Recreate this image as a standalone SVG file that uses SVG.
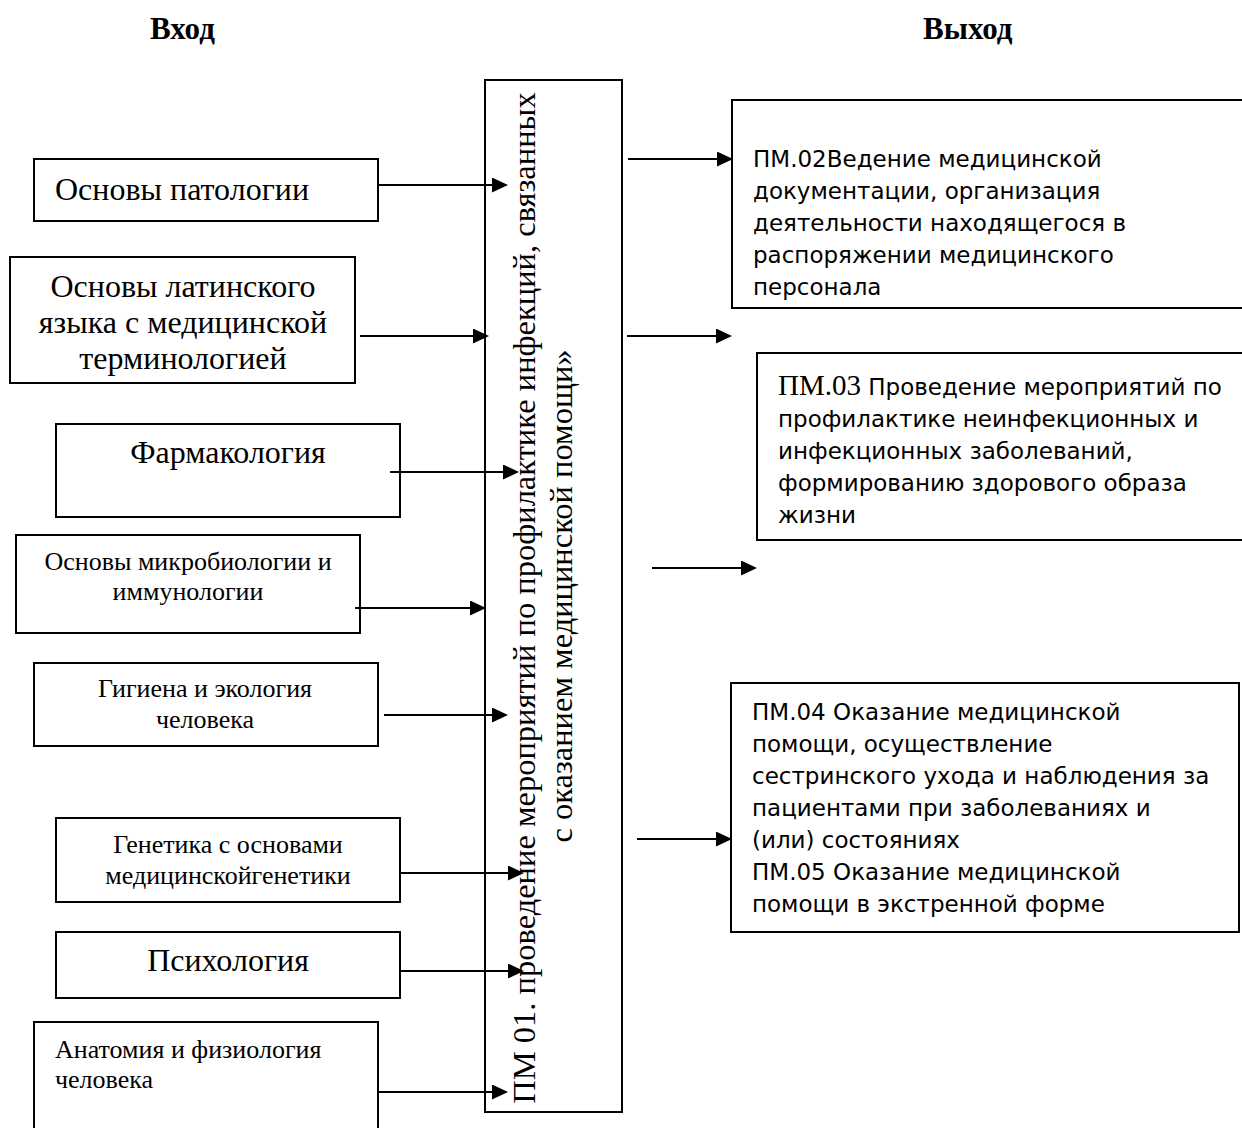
<svg xmlns="http://www.w3.org/2000/svg" width="1242" height="1128" viewBox="0 0 1242 1128">
<style>
.box{fill:#fff;stroke:#000;stroke-width:2}
.serif{font-family:"Liberation Serif","Times New Roman",serif;fill:#000}
.big{font-size:32px}
.mid{font-size:26px}
.sans{font-family:"DejaVu Sans","Liberation Sans",sans-serif;font-size:23px;fill:#000}
.hdr{font-family:"Liberation Serif","Times New Roman",serif;font-size:31px;font-weight:bold;fill:#000}
.c{text-anchor:middle}
.arr{stroke:#000;stroke-width:2;fill:none;marker-end:url(#ah)}
</style>
<defs>
<marker id="ah" markerUnits="userSpaceOnUse" markerWidth="17" markerHeight="15" refX="8" refY="7.5" orient="auto">
<path d="M0,0 L16,7.5 L0,15 z" fill="#000"/>
</marker>
</defs>
<rect width="1242" height="1128" fill="#fff"/>
<text class="hdr" x="150" y="39">Вход</text>
<text class="hdr" x="923" y="39">Выход</text>

<g id="center">
<rect class="box" x="485" y="80" width="137" height="1032"/>
<text class="serif c" font-size="32.5" transform="translate(535,598) rotate(-90)">ПМ 01. проведение мероприятий по профилактике инфекций, связанных</text>
<text class="serif c" font-size="32.5" transform="translate(572,596) rotate(-90)">с оказанием медицинской помощи»</text>
</g>

<g id="in1">
<rect class="box" x="34" y="159" width="344" height="62"/>
<text class="serif big" x="55" y="200">Основы патологии</text>
</g>
<g id="in2">
<rect class="box" x="10" y="257" width="345" height="126"/>
<text class="serif big c" x="183" y="297">Основы латинского</text>
<text class="serif big c" x="183" y="333">языка с медицинской</text>
<text class="serif big c" x="183" y="369">терминологией</text>
</g>
<g id="in3">
<rect class="box" x="56" y="424" width="344" height="93"/>
<text class="serif big c" x="228" y="463">Фармакология</text>
</g>
<g id="in4">
<rect class="box" x="16" y="535" width="344" height="98"/>
<text class="serif mid c" x="188" y="570">Основы микробиологии и</text>
<text class="serif mid c" x="188" y="600">иммунологии</text>
</g>
<g id="in5">
<rect class="box" x="34" y="663" width="344" height="83"/>
<text class="serif mid c" x="205" y="697">Гигиена и экология</text>
<text class="serif mid c" x="205" y="728">человека</text>
</g>
<g id="in6">
<rect class="box" x="56" y="818" width="344" height="84"/>
<text class="serif mid c" x="228" y="853">Генетика с основами</text>
<text class="serif mid c" x="228" y="884">медицинскойгенетики</text>
</g>
<g id="in7">
<rect class="box" x="56" y="932" width="344" height="66"/>
<text class="serif big c" x="228" y="971">Психология</text>
</g>
<g id="in8">
<rect class="box" x="34" y="1022" width="344" height="120"/>
<text class="serif mid" x="55" y="1058">Анатомия и физиология</text>
<text class="serif mid" x="55" y="1088">человека</text>
</g>

<g id="out1">
<rect class="box" x="732" y="100" width="520" height="208"/>
<text class="sans" x="753" y="167">ПМ.02Ведение медицинской</text>
<text class="sans" x="753" y="199">документации, организация</text>
<text class="sans" x="753" y="231">деятельности находящегося в</text>
<text class="sans" x="753" y="263">распоряжении  медицинского</text>
<text class="sans" x="753" y="295">персонала</text>
</g>
<g id="out2">
<rect class="box" x="757" y="353" width="500" height="187"/>
<text class="sans" x="778" y="395"><tspan class="serif" font-size="29">ПМ.03</tspan> Проведение мероприятий по</text>
<text class="sans" x="778" y="427">профилактике неинфекционных и</text>
<text class="sans" x="778" y="459">инфекционных заболеваний,</text>
<text class="sans" x="778" y="491">формированию здорового образа</text>
<text class="sans" x="778" y="523">жизни</text>
</g>
<g id="out3">
<rect class="box" x="731" y="683" width="508" height="249"/>
<text class="sans" x="752" y="720">ПМ.04 Оказание медицинской</text>
<text class="sans" x="752" y="752">помощи, осуществление</text>
<text class="sans" x="752" y="784">сестринского ухода и наблюдения за</text>
<text class="sans" x="752" y="816">пациентами при заболеваниях и</text>
<text class="sans" x="752" y="848">(или) состояниях</text>
<text class="sans" x="752" y="880">ПМ.05 Оказание медицинской</text>
<text class="sans" x="752" y="912">помощи в экстренной форме</text>
</g>

<g id="connectors">
<line class="arr" x1="378" y1="185" x2="500" y2="185"/>
<line class="arr" x1="360" y1="336" x2="481" y2="336"/>
<line class="arr" x1="390" y1="472" x2="511" y2="472"/>
<line class="arr" x1="355" y1="608" x2="478" y2="608"/>
<line class="arr" x1="384" y1="715" x2="500" y2="715"/>
<line class="arr" x1="400" y1="873" x2="516" y2="873"/>
<line class="arr" x1="400" y1="971" x2="516" y2="971"/>
<line class="arr" x1="378" y1="1092" x2="500" y2="1092"/>
<line class="arr" x1="628" y1="159" x2="725" y2="159"/>
<line class="arr" x1="627" y1="336" x2="724" y2="336"/>
<line class="arr" x1="652" y1="568" x2="749" y2="568"/>
<line class="arr" x1="637" y1="839" x2="724" y2="839"/>
</g>
</svg>
